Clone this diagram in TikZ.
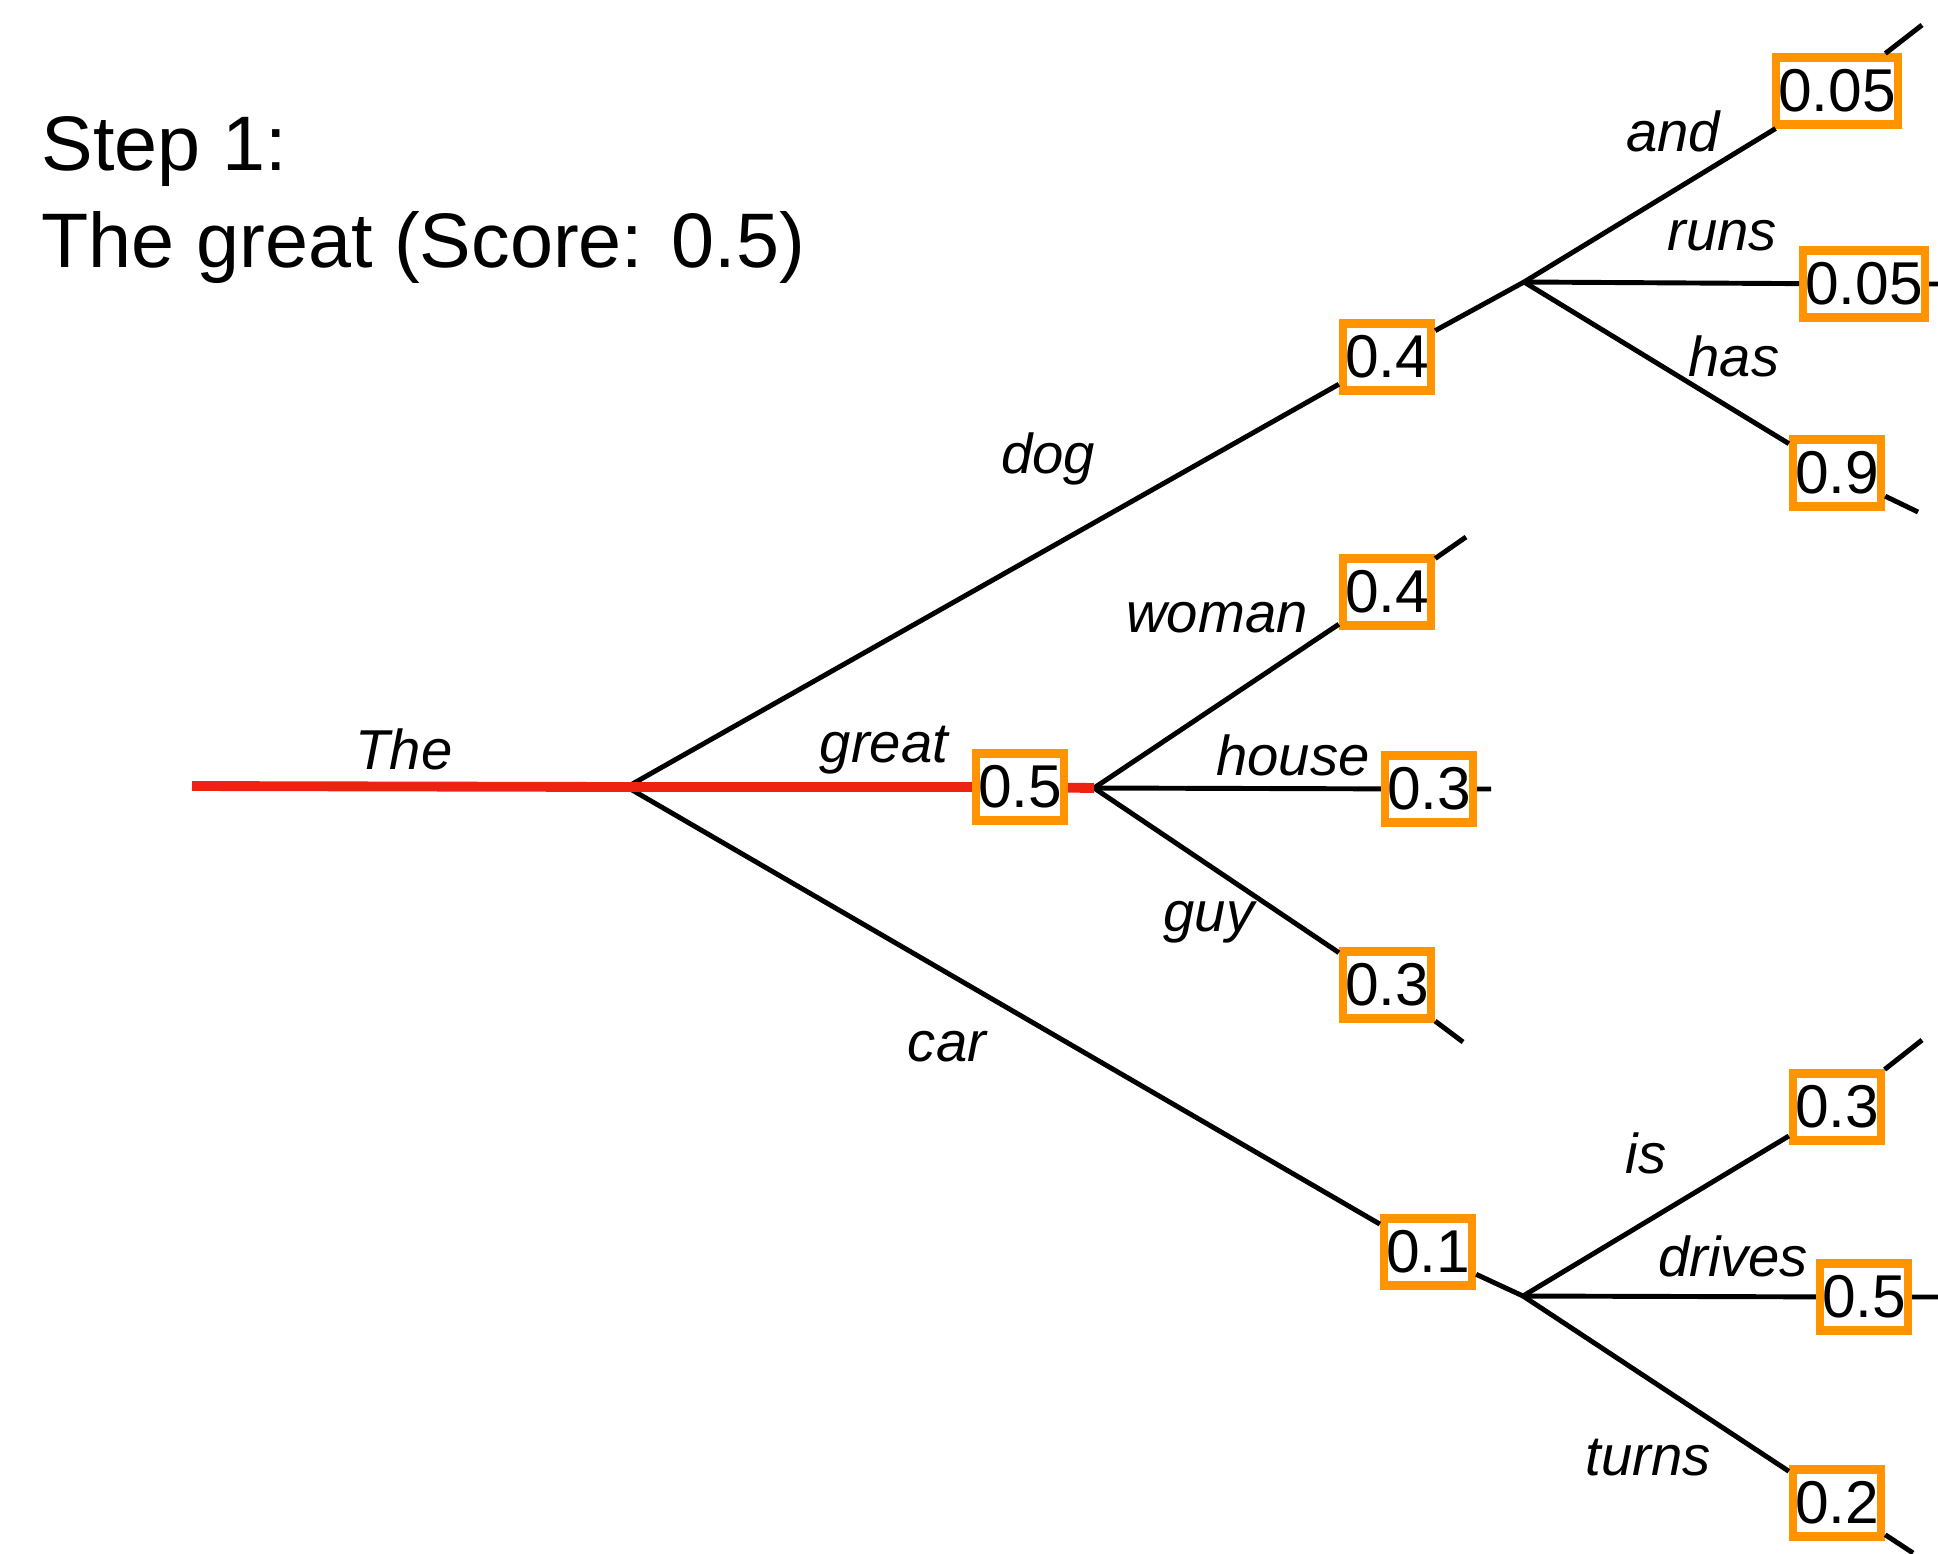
\documentclass[tikz,border=0pt]{standalone}
\usepackage{fontspec}
\setmainfont{Liberation Sans}

\definecolor{beamred}{RGB}{238,34,17}
\definecolor{scoreorange}{RGB}{255,148,0}

\tikzset{
  score/.style={draw=scoreorange, line width=2.3pt, inner xsep=0.6pt, inner ysep=0pt,
    minimum height=0.67cm, font=\fontsize{17.2}{17}\selectfont},
  word/.style={inner sep=0pt, font=\fontsize{16}{16}\selectfont\itshape},
  branch/.style={line width=1.4pt},
  best/.style={beamred, line width=2.8pt},
  title/.style={anchor=base west, inner sep=0pt, font=\fontsize{22}{27}\selectfont}
}

\begin{document}
\begin{tikzpicture}
  \useasboundingbox (0,0) rectangle (19.38,-15.53);

  \node[title] (step) at (0.41,-1.70) {Step 1:};
  \node[title] (seq) at (0.41,-2.67) {The great (Score: 0.5)};

  % forks of the tree
  \coordinate (start) at (1.92,-7.86);
  \coordinate (r) at (6.27,-7.87);
  \coordinate (f1) at (15.24,-2.82);
  \coordinate (f2) at (10.94,-7.88);
  \coordinate (f3) at (15.23,-12.96);

  % scores, first level
  \node[score] (great) at (10.20,-7.87) {0.5};
  \node[score] (dog) at (13.87,-3.57) {0.4};
  \node[score] (car) at (14.28,-12.52) {0.1};

  % scores, second level
  \node[score] (and) at (18.37,-0.91) {0.05};
  \node[score] (runs) at (18.64,-2.84) {0.05};
  \node[score] (has) at (18.37,-4.73) {0.9};
  \node[score] (woman) at (13.87,-5.92) {0.4};
  \node[score] (house) at (14.29,-7.89) {0.3};
  \node[score] (guy) at (13.87,-9.85) {0.3};
  \node[score] (is) at (18.37,-11.07) {0.3};
  \node[score] (drives) at (18.64,-12.97) {0.5};
  \node[score] (turns) at (18.37,-15.03) {0.2};

  % loose ends
  \coordinate (and-e) at (19.22,-0.25);
  \coordinate (runs-e) at (19.38,-2.84);
  \coordinate (has-e) at (19.18,-5.12);
  \coordinate (woman-e) at (14.66,-5.37);
  \coordinate (house-e) at (14.91,-7.89);
  \coordinate (guy-e) at (14.63,-10.42);
  \coordinate (is-e) at (19.22,-10.40);
  \coordinate (drives-e) at (19.38,-12.97);
  \coordinate (turns-e) at (19.13,-15.53);

  \draw[branch] (r) -- (dog) -- (f1);
  \draw[branch] (r) -- (car) -- (f3);
  \foreach \n in {and,runs,has} \draw[branch] (f1) -- (\n) -- (\n-e);
  \foreach \n in {woman,house,guy} \draw[branch] (f2) -- (\n) -- (\n-e);
  \foreach \n in {is,drives,turns} \draw[branch] (f3) -- (\n) -- (\n-e);
  \draw[best] (start) -- (r) -- (great) -- (f2);

  % words on the branches
  \node[word] (w-the) at (4.04,-7.49) {The};
  \node[word] (w-great) at (8.84,-7.50) {great};
  \node[word] (w-dog) at (10.48,-4.59) {dog};
  \node[word] (w-car) at (9.47,-10.47) {car};
  \node[word] (w-woman) at (12.17,-6.18) {woman};
  \node[word] (w-house) at (12.93,-7.55) {house};
  \node[word] (w-guy) at (12.09,-9.22) {guy};
  \node[word] (w-and) at (16.73,-1.31) {and};
  \node[word] (w-runs) at (17.22,-2.36) {runs};
  \node[word] (w-has) at (17.34,-3.56) {has};
  \node[word] (w-is) at (16.46,-11.53) {is};
  \node[word] (w-drives) at (17.33,-12.56) {drives};
  \node[word] (w-turns) at (16.48,-14.58) {turns};
\end{tikzpicture}
\end{document}
